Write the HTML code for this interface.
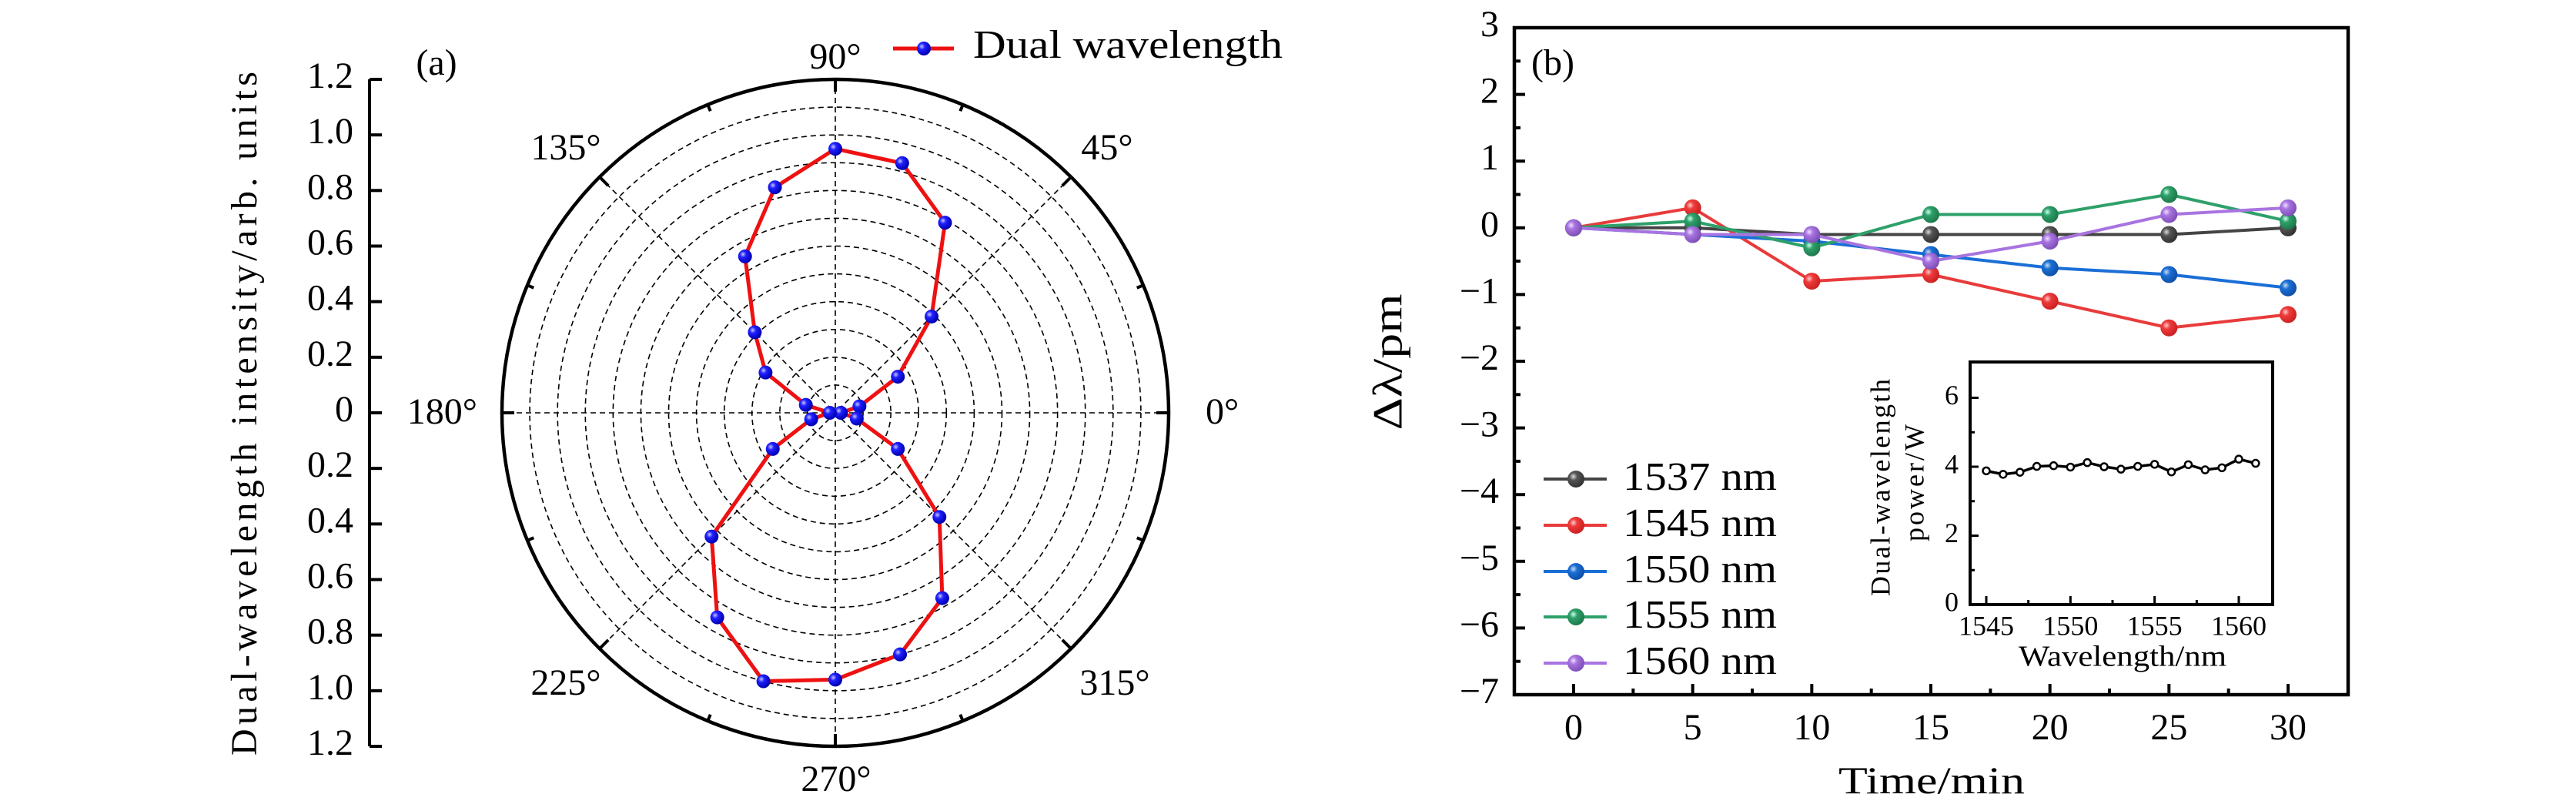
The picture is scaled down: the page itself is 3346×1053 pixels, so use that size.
<!DOCTYPE html>
<html><head><meta charset="utf-8"><style>
html,body{margin:0;padding:0;background:#fff;}
svg{display:block;font-family:"Liberation Serif",serif;}
</style></head><body>
<svg id="fig" width="3346" height="1053" viewBox="0 0 3346 1053" xmlns="http://www.w3.org/2000/svg">
<defs>
<radialGradient id="gBlue" cx="35%" cy="35%" r="65%"><stop offset="0" stop-color="#c8c8ff"/><stop offset="0.35" stop-color="#2020ff"/><stop offset="1" stop-color="#0000b0"/></radialGradient>
<radialGradient id="g0" cx="35%" cy="35%" r="65%"><stop offset="0" stop-color="#ddd"/><stop offset="0.35" stop-color="#555"/><stop offset="1" stop-color="#333"/></radialGradient>
<radialGradient id="g1" cx="35%" cy="35%" r="65%"><stop offset="0" stop-color="#fcc"/><stop offset="0.35" stop-color="#ee3b3b"/><stop offset="1" stop-color="#c22"/></radialGradient>
<radialGradient id="g2" cx="35%" cy="35%" r="65%"><stop offset="0" stop-color="#cde"/><stop offset="0.35" stop-color="#1a6fd6"/><stop offset="1" stop-color="#1050a8"/></radialGradient>
<radialGradient id="g3" cx="35%" cy="35%" r="65%"><stop offset="0" stop-color="#cfe"/><stop offset="0.35" stop-color="#2ea06a"/><stop offset="1" stop-color="#1e7a4c"/></radialGradient>
<radialGradient id="g4" cx="35%" cy="35%" r="65%"><stop offset="0" stop-color="#f0e0ff"/><stop offset="0.35" stop-color="#a874e0"/><stop offset="1" stop-color="#8050b8"/></radialGradient>
</defs>
<g id="polar"></g>
<g id="main"></g>
<g id="inset"></g>
</svg>
<script>
// ---- polar data ----
const polarAngles = [0,15,30,45,60,75,90,105,120,135,150,165,180,195,210,225,240,255,270,285,300,315,330,345];
const polarValues = [0.02,0.09,0.26,0.49,0.79,0.93,0.95,0.84,0.65,0.41,0.29,0.11,0.02,0.09,0.26,0.63,0.85,1.0,0.96,0.9,0.77,0.53,0.26,0.08];
const polarRadialTicks = ["1.2","1.0","0.8","0.6","0.4","0.2","0","0.2","0.4","0.6","0.8","1.0","1.2"];
// ---- main chart data ----
const timeValues = [0,5,10,15,20,25,30];
const seriesNames = ["1537 nm","1545 nm","1550 nm","1555 nm","1560 nm"];
const s1537 = [0,0,-0.1,-0.1,-0.1,-0.1,0];
const s1545 = [0,0.3,-0.8,-0.7,-1.1,-1.5,-1.3];
const s1550 = [0,-0.1,-0.2,-0.4,-0.6,-0.7,-0.9];
const s1555 = [0,0.1,-0.3,0.2,0.2,0.5,0.1];
const s1560 = [0,-0.1,-0.1,-0.5,-0.2,0.2,0.3];
const xTickLabels = ["0","5","10","15","20","25","30"];
const yTickLabels = ["3","2","1","0","\u22121","\u22122","\u22123","\u22124","\u22125","\u22126","\u22127"];
// ---- inset data ----
const insetWavelengths = [1545,1546,1547,1548,1549,1550,1551,1552,1553,1554,1555,1556,1557,1558,1559,1560,1561];
const insetPower = [3.88,3.78,3.84,4.01,4.03,3.99,4.12,4.0,3.93,4.01,4.07,3.85,4.06,3.91,3.97,4.22,4.10];
const insetXTicks = ["1545","1550","1555","1560"];
const insetYTicks = ["0","2","4","6"];

const NS="http://www.w3.org/2000/svg";
function mk(parent,tag,attrs,text){const e=document.createElementNS(NS,tag);for(const k in attrs)e.setAttribute(k,attrs[k]);if(text!==undefined)e.textContent=text;parent.appendChild(e);return e;}

// ===== POLAR =====
(function(){
const g=document.getElementById('polar');
const cx=1085,cy=536,R=433,rmax=1.2;
const rs=v=>v/rmax*R;
const px=(a,v)=>cx+rs(v)*Math.cos(a*Math.PI/180);
const py=(a,v)=>cy-rs(v)*Math.sin(a*Math.PI/180);
for(let i=1;i<12;i++){
  const c=mk(g,'circle',{cx:cx,cy:cy,r:rs(i*0.1),fill:'none',stroke:'#000','stroke-width':1.6,'stroke-dasharray':'7,5'});
  
  
}
for(let a=0;a<180;a+=45){
  const l=mk(g,'line',{x1:px(a,rmax),y1:py(a,rmax),x2:px(a+180,rmax),y2:py(a+180,rmax),stroke:'#000','stroke-width':1.6,'stroke-dasharray':'7,5'});
  
  
}
const oc=mk(g,'circle',{cx:cx,cy:cy,r:R,fill:'none',stroke:'#000','stroke-width':4.5});


for(let a=0;a<360;a+=22.5){
  const len=(a%45===0)?16:9;
  const t=mk(g,'line',{x1:px(a,rmax),y1:py(a,rmax),x2:cx+(R-len)*Math.cos(a*Math.PI/180),y2:cy-(R-len)*Math.sin(a*Math.PI/180),stroke:'#000','stroke-width':4});
  
  
}
const angLabels=[[0,1566,539,'start'],[45,1438,196,'middle'],[90,1085,78,'middle'],[135,735,196,'middle'],[180,620,539,'end'],[225,735,891,'middle'],[270,1086,1016,'middle'],[315,1448,891,'middle']];
angLabels.forEach(d=>{
  const t=mk(g,'text',{x:d[1],y:d[2],'font-size':48,'text-anchor':d[3],'dominant-baseline':'middle'},d[0]+'\u00b0');
  
  
});
const ax=480;
const al=mk(g,'line',{x1:ax,y1:cy-R,x2:ax,y2:cy+R,stroke:'#000','stroke-width':4});


polarRadialTicks.forEach((lab,i)=>{
  const y=cy-R+i*(2*R/12);
  const tk=mk(g,'line',{x1:ax,y1:y,x2:ax+16,y2:y,stroke:'#000','stroke-width':4});
  
  
  const t=mk(g,'text',{x:459,y:y,'font-size':48,'text-anchor':'end','dominant-baseline':'middle'},lab);
  
  
});
const yt=mk(g,'text',{x:0,y:0,'font-size':48,'text-anchor':'middle','dominant-baseline':'middle',transform:'translate(322,537) rotate(-90)',textLength:888,lengthAdjust:'spacing'},'Dual-wavelength intensity/arb. units');


const pa=mk(g,'text',{x:567,y:86,'font-size':48,'text-anchor':'middle','dominant-baseline':'middle'},'(a)');


let pts=polarAngles.map((a,i)=>px(a,polarValues[i]).toFixed(1)+','+py(a,polarValues[i]).toFixed(1));
const pl=mk(g,'polygon',{points:pts.join(' '),fill:'none',stroke:'#ee1111','stroke-width':5,'stroke-linejoin':'round'});


polarAngles.forEach((a,i)=>{
  const c=mk(g,'circle',{cx:px(a,polarValues[i]),cy:py(a,polarValues[i]),r:9,fill:'url(#gBlue)'});
  
  
});
const lg=mk(g,'g',{});


mk(lg,'line',{x1:1160,y1:63,x2:1239,y2:63,stroke:'#ee1111','stroke-width':5});
mk(lg,'circle',{cx:1200,cy:63,r:9,fill:'url(#gBlue)'});
const lt=mk(lg,'text',{x:1264,y:63,'font-size':52,'dominant-baseline':'middle',textLength:402,lengthAdjust:'spacingAndGlyphs'},'Dual wavelength');


})();

// ===== MAIN =====
(function(){
const g=document.getElementById('main');
const L=1967,R=3050,T=36,B=902;
const xs=v=>2044+(v-0)*(2972-2044)/30;
const ys=v=>T+(3-v)*(B-T)/10;
const box=mk(g,'rect',{x:L,y:T,width:R-L,height:B-T,fill:'none',stroke:'#000','stroke-width':4.5});


for(let v=-2.5;v<=32.5;v+=2.5){
  const major=(v%5===0)&&v>=0&&v<=30; if(v<-2||v>32)continue;
  const tk=mk(g,'line',{x1:xs(v),y1:B,x2:xs(v),y2:B-(major?14:8),stroke:'#000','stroke-width':4});
  
  
}
xTickLabels.forEach((lab,i)=>{
  const t=mk(g,'text',{x:xs(timeValues[i]),y:949,'font-size':48,'text-anchor':'middle','dominant-baseline':'middle'},lab);
  
  
});
for(let v=-7;v<=3;v+=0.5){
  const major=Number.isInteger(v);
  const tk=mk(g,'line',{x1:L,y1:ys(v),x2:L+(major?14:8),y2:ys(v),stroke:'#000','stroke-width':4});
  
  
}
yTickLabels.forEach((lab,i)=>{
  const t=mk(g,'text',{x:1947,y:ys(3-i),'font-size':48,'text-anchor':'end','dominant-baseline':'middle'},lab);
  
  
});
const xt=mk(g,'text',{x:2509,y:1030,'font-size':50,'text-anchor':'middle',textLength:242,lengthAdjust:'spacingAndGlyphs'},'Time/min');


const yt=mk(g,'text',{x:0,y:0,'font-size':54,'text-anchor':'middle','dominant-baseline':'middle',transform:'translate(1808,470) rotate(-90)',textLength:177,lengthAdjust:'spacingAndGlyphs'},'\u0394\u03bb/pm');


const pb=mk(g,'text',{x:2017,y:86,'font-size':48,'text-anchor':'middle','dominant-baseline':'middle'},'(b)');


const series=[s1537,s1545,s1550,s1555,s1560];
const colors=['#444','#e83b3b','#1a6fd6','#2ea06a','#a874e0'];
series.forEach((s,k)=>{
  const sg=mk(g,'g',{});
  
  
  mk(sg,'polyline',{points:s.map((v,i)=>xs(timeValues[i])+','+ys(v)).join(' '),fill:'none',stroke:colors[k],'stroke-width':4});
  s.forEach((v,i)=>{
    const c=mk(sg,'circle',{cx:xs(timeValues[i]),cy:ys(v),r:11,fill:'url(#g'+k+')'});
    
    
  });
});
const legY=[622,682,742,801,861];
seriesNames.forEach((n,k)=>{
  const lg=mk(g,'g',{});
  
  
  mk(lg,'line',{x1:2005,y1:legY[k],x2:2087,y2:legY[k],stroke:colors[k],'stroke-width':4});
  mk(lg,'circle',{cx:2047,cy:legY[k],r:11,fill:'url(#g'+k+')'});
  mk(lg,'text',{x:2108,y:legY[k]+2,'font-size':52,'dominant-baseline':'middle',textLength:200,lengthAdjust:'spacingAndGlyphs'},n);
});
})();

// ===== INSET =====
(function(){
const g=document.getElementById('inset');
const L=2559,R=2952,T=470,B=785;
const xs=v=>2580+(v-1545)*(2908-2580)/15;
const ys=v=>B+(0-v)*(B-606)/4;
const box=mk(g,'rect',{x:L,y:T,width:R-L,height:B-T,fill:'#fff',stroke:'#000','stroke-width':4});


for(let v=1545;v<=1560;v+=2.5){
  const major=(v%5===0);
  const tk=mk(g,'line',{x1:xs(v),y1:B,x2:xs(v),y2:B-(major?11:6),stroke:'#000','stroke-width':3});
  
  
}
insetXTicks.forEach(l=>{
  const t=mk(g,'text',{x:xs(+l),y:816,'font-size':36,'text-anchor':'middle','dominant-baseline':'middle'},l);
  
  
});
for(let v=0;v<=6;v+=1){
  const major=(v%2===0);
  const tk=mk(g,'line',{x1:L,y1:ys(v),x2:L+(major?11:6),y2:ys(v),stroke:'#000','stroke-width':3});
  
  
}
insetYTicks.forEach(l=>{
  const t=mk(g,'text',{x:2544,y:ys(+l),'font-size':36,'text-anchor':'end','dominant-baseline':'middle'},l);
  
  
});
const xt=mk(g,'text',{x:2757,y:856,'font-size':38,'text-anchor':'middle','dominant-baseline':'middle',textLength:270,lengthAdjust:'spacingAndGlyphs'},'Wavelength/nm');


const yt1=mk(g,'text',{x:0,y:0,'font-size':36,'text-anchor':'middle','dominant-baseline':'middle',transform:'translate(2446,633) rotate(-90)',textLength:282,lengthAdjust:'spacing'},'Dual-wavelength');


const yt2=mk(g,'text',{x:0,y:0,'font-size':36,'text-anchor':'middle','dominant-baseline':'middle',transform:'translate(2490,627) rotate(-90)',textLength:152,lengthAdjust:'spacing'},'power/W');


const pl=mk(g,'polyline',{points:insetWavelengths.map((w,i)=>xs(w)+','+ys(insetPower[i])).join(' '),fill:'none',stroke:'#000','stroke-width':3.5});


insetWavelengths.forEach((w,i)=>{
  const c=mk(g,'circle',{cx:xs(w),cy:ys(insetPower[i]),r:4.5,fill:'#fff',stroke:'#000','stroke-width':2.5});
  
  
});
})();
</script>
</body></html>
